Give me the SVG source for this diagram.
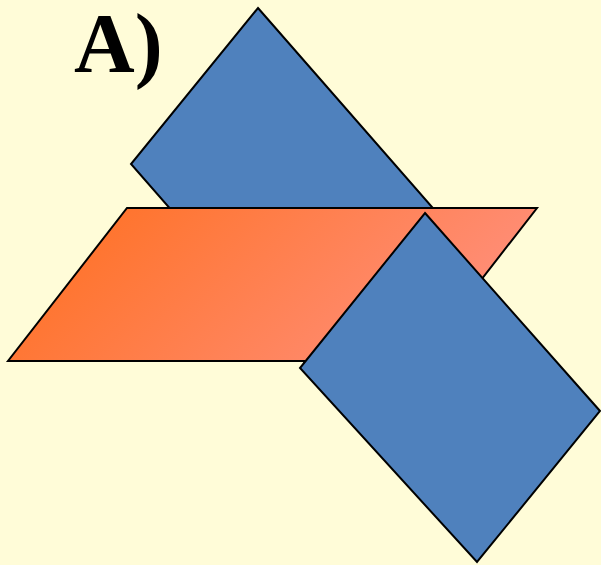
<svg xmlns="http://www.w3.org/2000/svg" width="601" height="565" viewBox="0 0 601 565">
<defs>
<linearGradient id="og" x1="0" y1="0" x2="1" y2="0.3">
<stop offset="0" stop-color="#FF6E1C"/>
<stop offset="1" stop-color="#FF8E78"/>
</linearGradient>
<style>
.blue{fill:#4F81BD;stroke:#000;stroke-width:2;stroke-linejoin:miter}
.orange{fill:url(#og);stroke:#000;stroke-width:2}
.title{font-family:"Liberation Serif",serif;font-weight:bold;font-size:84px;fill:#000}
</style>
</defs>
<rect x="0" y="0" width="601" height="565" fill="#FFFCD8"/>
<text class="title" x="74" y="72">A)</text>
<g id="top-rect"><polygon class="blue" points="258,8 432,207 305,363 131,164"/></g>
<g id="plane"><polygon class="orange" points="127,208 537,208 418,361 8,361"/></g>
<g id="bottom-rect"><polygon class="blue" points="425,213 600,411 477,562 300,368"/></g>
</svg>
